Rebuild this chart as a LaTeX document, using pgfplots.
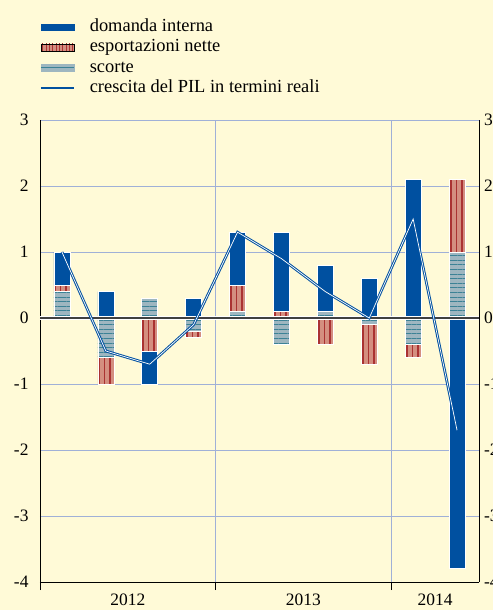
\documentclass[border=0pt]{standalone}
\usepackage{pgfplots}
\pgfplotsset{compat=1.18}
\usepackage{pgfplotstable}
\usepackage{fontspec}
\setmainfont{Liberation Serif}
\usetikzlibrary{patterns.meta}
\definecolor{bg}{RGB}{255,250,215}
\definecolor{dom}{RGB}{0,80,160}
\definecolor{expf}{RGB}{212,142,128}
\definecolor{expl}{RGB}{170,50,50}
\definecolor{scof}{RGB}{158,182,192}
\definecolor{scol}{RGB}{60,130,150}
\definecolor{gridc}{RGB}{160,176,215}

% contributions to quarterly GDP growth
\pgfplotstableread{
x dom exp sco pil
0 0.5 0.1 0.4 1.0
1 0.4 -0.4 -0.6 -0.5
2 -0.5 -0.5 0.3 -0.7
3 0.3 -0.1 -0.2 -0.1
4 0.8 0.4 0.1 1.3
5 1.2 0.1 -0.4 0.9
6 0.7 -0.4 0.1 0.4
7 0.6 -0.6 -0.1 0.0
8 2.1 -0.2 -0.4 1.5
9 -3.8 1.1 1.0 -1.7
}\data

\pgfplotsset{
  common/.style={
    scale only axis, width=439bp, height=462bp,
    at={(0,0)}, anchor=south west,
    xmin=-0.5, xmax=9.5, ymin=-4, ymax=3, enlargelimits=false,
    ytick={-4,-3,...,3},
    tick label style={font=\fontsize{17.5}{20}\selectfont},
    /pgf/number format/assume math mode=true,
  },
  domst/.style={fill=dom, draw=white, line width=0.7bp},
  expst/.style={fill=expf, draw=white, line width=0.7bp,
    postaction={pattern={Lines[angle=90,distance=5.5bp,line width=1.1bp]}, pattern color=expl}},
  scost/.style={fill=scof, draw=white, line width=0.7bp,
    postaction={pattern={Lines[angle=0,distance=4.6bp,line width=1bp]}, pattern color=scol}},
}

\begin{document}
\begin{tikzpicture}
\path[use as bounding box, fill=bg] (-40bp,-28bp) rectangle (453bp,582bp);

% positive parts
\begin{axis}[common,
  ybar stacked, bar width=16bp,
  axis x line*=bottom, axis y line*=left,
  axis line style={black, line width=0.9bp},
  xtick={-0.5,3.5,7.5}, xticklabels={},
  extra x ticks={1.5,5.5,8.5}, extra x tick labels={2012,2013,2014},
  extra x tick style={major tick length=0pt, xmajorgrids=false,
     xticklabel style={yshift=-8bp}},
  tick align=outside, major tick length=8bp,
  xtick style={black, line width=0.9bp},
  ytick style={draw=none},
  xmajorgrids, ymajorgrids,
  grid style={gridc, line width=0.8bp},
  legend style={font=\fontsize{18.5}{21}\selectfont, draw=none, fill=none,
     at={(0,1)}, anchor=north west, yshift=102bp, inner sep=0pt,
     row sep=3.5bp,
     nodes={inner sep=0pt, text height=13bp, text depth=4bp},
     /tikz/every odd column/.style={column sep=15bp}},
  legend cell align=left,
]
\addplot[scost, forget plot] table[x=x, y expr={max(\thisrow{sco},0)}] {\data};
\addplot[expst, forget plot] table[x=x, y expr={max(\thisrow{exp},0)}] {\data};
\addplot[domst, forget plot] table[x=x, y expr={max(\thisrow{dom},0)}] {\data};

\addlegendimage{legend image code/.code={\fill[dom] (0bp,-3bp) rectangle (33bp,3bp);}}
\addlegendentry{domanda interna}
\addlegendimage{legend image code/.code={\fill[expf] (0bp,-3.5bp) rectangle (33bp,3.5bp);
  \fill[pattern={Lines[angle=90,distance=3.3bp,line width=1bp]}, pattern color=expl] (0bp,-3.5bp) rectangle (33bp,3.5bp);}}
\addlegendentry{esportazioni nette}
\addlegendimage{legend image code/.code={\fill[scof] (0bp,-3.5bp) rectangle (33bp,3.5bp);
  \draw[scol, line width=1bp] (0bp,0bp) -- (33bp,0bp);}}
\addlegendentry{scorte}
\addlegendimage{legend image code/.code={\draw[dom, line width=1.6bp] (0bp,0bp) -- (33bp,0bp);}}
\addlegendentry{crescita del PIL in termini reali}
\end{axis}

% negative parts
\begin{axis}[common,
  ybar stacked, bar width=16bp,
  axis lines=none,
]
\addplot[scost] table[x=x, y expr={min(\thisrow{sco},0)}] {\data};
\addplot[expst] table[x=x, y expr={min(\thisrow{exp},0)}] {\data};
\addplot[domst] table[x=x, y expr={min(\thisrow{dom},0)}] {\data};
\end{axis}

% zero line, GDP line, right axis
\begin{axis}[common,
  axis x line=none, axis y line*=right,
  axis line style={black, line width=0.9bp},
  yticklabel pos=right,
  yticklabel style={xshift=1.5bp},
  ytick style={draw=none},
]
\addplot[white, line width=3.6bp] coordinates {(-0.5,0) (9.5,0)};
\addplot[black!75, line width=1.8bp] coordinates {(-0.5,0) (9.5,0)};
\addplot[dom, line width=1bp, double=white, double distance=0.7bp, sharp plot, mark=none]
  table[x=x, y=pil] {\data};
\end{axis}
\end{tikzpicture}
\end{document}
